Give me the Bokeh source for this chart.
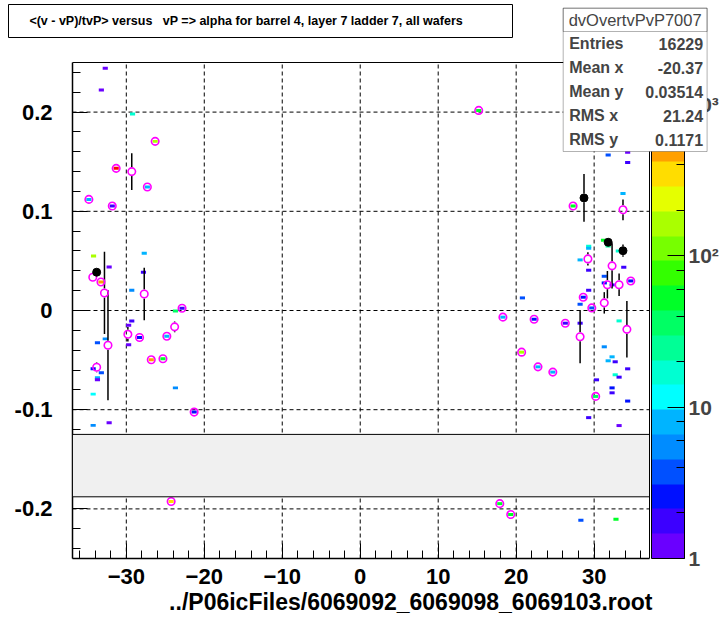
from bokeh.plotting import figure
from bokeh.models import (FixedTicker, LogColorMapper, LinearColorMapper, ColorBar, LogTicker,
                          Label, BoxAnnotation, ColumnDataSource, Title)
from bokeh.embed import file_html
from bokeh.resources import INLINE

# ---------------- data ----------------
# 2D histogram cells (x, y, entries)
cell_x = [-32.7, -33.2, -29.2, -26.3, -31.3, -27.3, -34.8, -31.8, -27.7, -34.2, -32.2, -33.25,
          -27.8, -29.3, -23.7, -22.85, -29.3, -29.7, -28.3, -24.8, -29.7, -32.7, -33.7, -26.8,
          -25.3, -34.25, -33.2, -33.7, -33.7, -23.7, -34.25, -21.3, -32.2, -34.25, -24.25,
          15.2, 20.8, 18.3, 22.3, 20.7, 22.8, 24.7, 31.8, 34.3, 34.3, 27.3, 33.7, 31.2, 31.8,
          29.3, 29.3, 33.1, 28.2, 33.8, 29.3, 31.3, 34.7, 31.3, 32.3, 29.3, 28.6, 28.2, 29.7,
          26.3, 28.2, 33.2, 31.3, 32.3, 31.8, 32.7, 34.3, 32.7, 33.2, 30.3, 32.3, 32.3, 30.2,
          34.3, 29.3, 33.2, 17.9, 19.3, 28.3, 32.8]
cell_y = [0.2443, 0.2222, 0.198, 0.1705, 0.1433, 0.1245, 0.112, 0.1053, 0.0577, 0.055, 0.0439, 0.0288,
          0.0386, 0.0204, -0.0004, 0.0023, -0.0105, -0.0148, -0.0272, -0.0259, -0.0346, -0.0286, -0.0326, -0.0497,
          -0.0487, -0.0588, -0.0628, -0.0679, -0.0699, -0.078, -0.0843, -0.1024, -0.1132, -0.1158, -0.1926,
          0.2017, 0.0127, -0.0067, -0.0088, -0.042, -0.0568, -0.0621, 0.1567, 0.1594, 0.1493, 0.1053, 0.118, 0.0708, 0.065,
          0.0648, 0.0627, 0.060, 0.051, 0.0436, 0.0406, 0.0345, 0.0298, 0.0278, 0.0258, 0.0204, 0.0134, 0.0063, 0.0026,
          -0.0128, -0.0128, -0.0105, -0.0366, -0.0467, -0.0507, -0.0517, -0.0588, -0.0648, -0.0672, -0.0699, -0.078, -0.083, -0.0866,
          -0.0913, -0.108, -0.116, -0.1947, -0.2057, -0.2115, -0.2105]
cell_n = [1, 1, 17, 160, 1500, 8, 8, 2, 8, 160, 1, 500,
          2, 5, 36, 2, 2, 1, 3, 8, 1, 5, 4, 500,
          52, 3, 4, 8, 1, 5, 12, 3, 1, 5, 350,
          52, 4, 8, 3, 160, 8, 8, 4, 1, 2, 52, 8, 52, 25,
          17, 8, 17, 8, 2, 2, 4, 3, 3, 2, 2, 3, 4, 4,
          2, 2, 17, 5, 8, 8, 2, 2, 17, 2, 2, 3, 2, 36,
          3, 2, 1, 52, 52, 4, 52]

# profile points (open magenta markers) with errors
prof_x = [-34.8, -31.3, -29.3, -26.3, -27.3, -31.8, -34.3, -33.25, -32.8, -32.35, -27.7, -22.85,
          -23.8, -29.8, -28.3, -24.8, -26.8, -25.3, -33.8, -21.3, -24.25,
          15.2, 18.3, 22.3, 20.7, 22.8, 24.7, 27.3, 33.7, 32.3, 29.2, 34.7, 31.7, 33.2, 28.6,
          29.7, 31.3, 26.3, 28.2, 34.2, 30.2, 17.9, 19.3]
prof_y = [0.112, 0.1433, 0.140, 0.1705, 0.1245, 0.1053, 0.0335, 0.0288, 0.0177, -0.035, 0.0167, 0.0023,
          -0.0165, -0.0240, -0.0272, -0.0259, -0.0497, -0.0487, -0.0572, -0.1024, -0.1926,
          0.2017, -0.0067, -0.0088, -0.042, -0.0568, -0.0621, 0.1053, 0.1015, 0.045, 0.052, 0.0298, 0.026, 0.026, 0.0134,
          0.0026, 0.0077, -0.0128, -0.0265, -0.019, -0.0866, -0.1947, -0.2057]
prof_err = [0, 0, 0.0185, 0, 0, 0, 0, 0, 0.0415, 0.0555, 0.0265, 0,
            0.0055, 0.0073, 0, 0, 0, 0, 0.005, 0, 0,
            0, 0, 0, 0, 0, 0, 0, 0.0105, 0.0228, 0.0067, 0, 0.0138, 0.0113, 0,
            0, 0.0108, 0, 0.0268, 0.0285, 0, 0, 0]

# filled black points with errors
blk_x = [-33.8, 28.7, 31.8, 33.7]
blk_y = [0.0386, 0.1135, 0.0688, 0.0603]
blk_err = [0, 0.024, 0, 0.0062]

x_major = [-30, -20, -10, 0, 10, 20, 30]
y_major = [-0.2, -0.1, 0, 0.1, 0.2]
y_labels = ["-0.2", "-0.1", "0", "0.1", "0.2"]

stat_names = ["Entries", "Mean x", "Mean y", "RMS x", "RMS y"]
stat_values = ["16229", "-20.37", "0.03514", "21.24", "0.1171"]
stat_title = "dvOvertvPvP7007"
title_text = "\u00a0\u00a0\u00a0\u00a0<(v - vP)/tvP> versus \u00a0 vP => alpha for barrel 4, layer 7 ladder 7, all wafers"
xaxis_title = "../P06icFiles/6069092_6069098_6069103.root"

x_lo, x_hi = -36.9, 37.1          # histogram axis limits
y_lo, y_hi = -0.25, 0.25
band_lo, band_hi = -0.1878, -0.1249

palette = ["#6a00ff", "#3c00ff", "#0010ff", "#0050ff", "#008cff", "#00b4ff", "#00ffff",
           "#00ffd2", "#00ff96", "#00ff64", "#00ff28", "#33ff00", "#77ff00", "#aaff00",
           "#e5ff00", "#ffdd00", "#ffa000", "#ff7000", "#ff4000", "#ff0000"]
z_low, z_high = 1, 1900

# ---------------- geometry ----------------
W, H = 720, 620
ML, MB = 72, 62                 # left / bottom margins of the histogram frame
HW, HH = 577, 496               # histogram frame size in px
FW, FH = W - ML, H - MB         # bokeh frame (extends to top/right edges)
x_end = x_lo + (x_hi - x_lo) * FW / HW
y_end = y_lo + (y_hi - y_lo) * FH / HH

p = figure(width=W, height=H, output_backend="svg", toolbar_location=None,
           x_range=(x_lo, x_end), y_range=(y_lo, y_end),
           min_border_left=ML, min_border_right=0, min_border_top=0, min_border_bottom=MB)
p.outline_line_color = None
p.background_fill_color = "white"
p.border_fill_color = "white"
p.xgrid.visible = False
p.ygrid.visible = False

font = "Liberation Sans"
for ax in (p.xaxis[0], p.yaxis[0]):
    ax.axis_line_color = "black"
    ax.axis_line_width = 1.5
    ax.major_tick_in = 15
    ax.major_tick_out = 0
    ax.minor_tick_in = 8
    ax.minor_tick_out = 0
    ax.major_tick_line_color = "black"
    ax.minor_tick_line_color = "black"
    ax.major_label_text_font = font
    ax.major_label_text_font_style = "bold"
    ax.major_label_text_font_size = "22px"
    ax.major_label_text_color = "black"

p.xaxis[0].bounds = (x_lo, x_hi)
p.yaxis[0].bounds = (y_lo, y_hi)
p.xaxis[0].ticker = FixedTicker(ticks=x_major, minor_ticks=list(range(-36, 37, 2)))
p.yaxis[0].ticker = FixedTicker(ticks=y_major,
                                minor_ticks=[round(-0.24 + 0.02 * i, 2) for i in range(25)])
p.yaxis[0].major_label_overrides = {v: s for v, s in zip(y_major, y_labels)}
p.xaxis[0].major_label_standoff = 10
p.yaxis[0].major_label_standoff = 20

# dashed grid at the major ticks, limited to the histogram frame
p.segment(x0=x_major, y0=[y_lo] * len(x_major), x1=x_major, y1=[y_hi] * len(x_major),
          line_color="black", line_dash="4 3", line_width=1)
p.segment(x0=[x_lo] * len(y_major), y0=y_major, x1=[x_hi] * len(y_major), y1=y_major,
          line_color="black", line_dash="4 3", line_width=1)

mapper = LogColorMapper(palette=palette, low=z_low, high=z_high)

# cells
cells = ColumnDataSource(dict(x=cell_x, y=cell_y, n=cell_n))
p.rect(x="x", y="y", width=0.66, height=0.003, source=cells,
       fill_color={"field": "n", "transform": mapper}, line_color=None)

# error bars (split around the marker)
gap = 0.0045
def bars(xs, ys, es):
    x0, y0, y1 = [], [], []
    for x, y, e in zip(xs, ys, es):
        if e > gap:
            x0 += [x, x]
            y0 += [y + gap, y - gap]
            y1 += [y + e, y - e]
    return dict(x0=x0, x1=x0, y0=y0, y1=y1)

p.segment(x0="x0", y0="y0", x1="x1", y1="y1", source=ColumnDataSource(bars(prof_x, prof_y, prof_err)),
          line_color="black", line_width=1.5)
p.segment(x0="x0", y0="y0", x1="x1", y1="y1", source=ColumnDataSource(bars(blk_x, blk_y, blk_err)),
          line_color="black", line_width=1.5)

p.scatter(prof_x, prof_y, marker="circle", size=7.5, fill_color=None,
          line_color="#ff00ff", line_width=1.6)
p.scatter(blk_x, blk_y, marker="circle", size=8, fill_color="black", line_color="black")

# grey band and histogram frame
p.add_layout(BoxAnnotation(left=x_lo, right=x_hi, bottom=band_lo, top=band_hi,
                           fill_color="#f0f0f0", fill_alpha=1,
                           line_color="black", line_width=1, line_alpha=1))
p.add_layout(BoxAnnotation(left=x_lo, right=x_hi, bottom=y_lo, top=y_hi, fill_alpha=0,
                           line_color="black", line_width=1, line_alpha=1))

# color bar
cb = ColorBar(color_mapper=mapper, ticker=LogTicker(), location=(HW + 2, 0),
              width=33, height=HH, padding=0, margin=0,
              bar_line_color="black", bar_line_width=1,
              major_tick_in=17, major_tick_out=0, minor_tick_in=8, minor_tick_out=0,
              major_tick_line_color="black", minor_tick_line_color="black",
              major_label_text_font=font, major_label_text_font_style="bold",
              major_label_text_font_size="21px", label_standoff=4,
              major_label_overrides={1: "1", 10: "10", 100: "10\u00b2", 1000: "10\u00b3"},
              background_fill_color=None, border_line_color=None)
p.add_layout(cb, "center")

# title box (uses an empty colour bar as a framed box, reaching left of the frame)
tbox = ColorBar(color_mapper=LinearColorMapper(palette=["#ffffff"], low=0, high=1),
                orientation="horizontal", location=(8 - ML, H - MB - 37),
                width=490, height=3, padding=7, margin=0,
                title=title_text, title_text_font=font, title_text_font_style="bold",
                title_text_font_size="12.5px", title_standoff=0, title_text_color="black",
                ticker=FixedTicker(ticks=[]), major_label_text_font_size="0px",
                label_standoff=0, major_tick_in=0, major_tick_out=0,
                major_tick_line_color=None, minor_tick_line_color=None,
                bar_line_color=None, scale_alpha=0,
                border_line_color="black", border_line_width=1,
                background_fill_color="white", background_fill_alpha=1)
p.add_layout(tbox, "center")

# stats box (screen units relative to frame bottom-left)
SL, SR, ST, SB, SS = 490.7, 634.6, 550.3, 407, 527
p.add_layout(BoxAnnotation(left=SL, right=SR, top=ST, bottom=SB,
                           left_units="screen", right_units="screen",
                           top_units="screen", bottom_units="screen",
                           fill_color="white", fill_alpha=1, line_color="black", line_width=1))
p.add_layout(BoxAnnotation(left=SL, right=SR, top=ST, bottom=SS,
                           left_units="screen", right_units="screen",
                           top_units="screen", bottom_units="screen",
                           fill_alpha=0, line_color="black", line_width=1))
p.add_layout(Label(x=(SL + SR) / 2, y=(ST + SS) / 2, x_units="screen", y_units="screen",
                   text=stat_title, text_font=font, text_font_size="16.5px",
                   text_align="center", text_baseline="middle"))
row_h = (SS - SB) / len(stat_names)
for i, (nm, vl) in enumerate(zip(stat_names, stat_values)):
    yy = SS - row_h * (i + 0.5)
    p.add_layout(Label(x=SL + 6, y=yy, x_units="screen", y_units="screen", text=nm,
                       text_font=font, text_font_style="bold", text_font_size="16px",
                       text_align="left", text_baseline="middle"))
    p.add_layout(Label(x=SR - 4, y=yy, x_units="screen", y_units="screen", text=vl,
                       text_font=font, text_font_style="bold", text_font_size="16px",
                       text_align="right", text_baseline="middle"))

# x axis title, right aligned at the end of the axis
p.add_layout(Title(text=xaxis_title, align="right", offset=FW - HW - 3, standoff=0,
                   text_font=font, text_font_style="bold", text_font_size="23px",
                   text_color="black"), "below")

open("out.html", "w").write(file_html(p, INLINE))
